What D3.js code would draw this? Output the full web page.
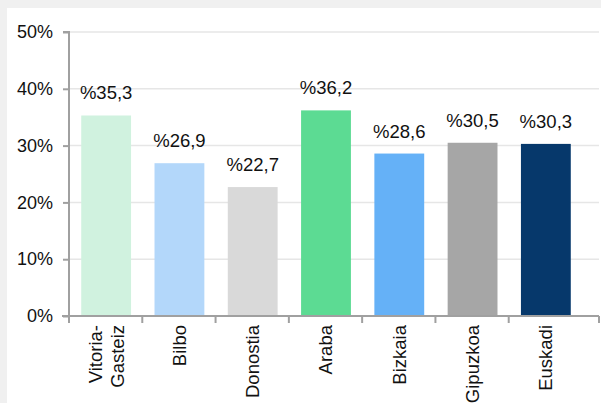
<!DOCTYPE html>
<html>
<head>
<meta charset="utf-8">
<script src="https://cdn.jsdelivr.net/npm/d3@7"></script>
<style>
  html, body { margin: 0; padding: 0; background: #f0f0f0; }
  svg { display: block; }
  text { font-family: "Liberation Sans", Arial, sans-serif; }
</style>
</head>
<body>
<svg id="chart" width="601" height="403"></svg>
<script>
// ---- data ----
const categories = ["Vitoria-Gasteiz", "Bilbo", "Donostia", "Araba", "Bizkaia", "Gipuzkoa", "Euskadi"];
const values = [35.3, 26.9, 22.7, 36.2, 28.6, 30.5, 30.3];
const yTicks = [0, 10, 20, 30, 40, 50];

// ---- style ----
const palette = ["#d0f2df", "#b3d7fa", "#d9d9d9", "#5cdb93", "#65b1f7", "#a6a6a6", "#06386b"];

const svg = d3.select("#chart");
svg.append("rect").attr("x", 7).attr("y", 8).attr("width", 594).attr("height", 395).attr("fill", "#ffffff");

const x = d3.scaleBand().domain(categories).range([69, 582]).paddingInner(0.32).paddingOuter(0.16);
const y = d3.scaleLinear().domain([0, 50]).range([316, 32]);
const axisRight = 599;

// gridlines
svg.append("g").selectAll("line").data(yTicks.filter(d => d > 0)).join("line")
  .attr("x1", 69).attr("x2", axisRight).attr("y1", d => y(d)).attr("y2", d => y(d))
  .attr("stroke", "#e6e6e6").attr("stroke-width", 1.5);

// bars
svg.append("g").selectAll("rect").data(values).join("rect")
  .attr("x", (d, i) => x(categories[i]) + 0.5)
  .attr("y", d => y(d))
  .attr("width", x.bandwidth())
  .attr("height", d => y(0) - y(d))
  .attr("fill", (d, i) => palette[i]);

// value labels
svg.append("g").selectAll("text").data(values).join("text")
  .attr("x", (d, i) => x(categories[i]) + x.bandwidth() / 2 + 0.5)
  .attr("y", d => y(d) - 16)
  .attr("text-anchor", "middle").attr("font-size", 18.5).attr("fill", "#111")
  .text(d => "%" + d.toFixed(1).replace(".", ","));

// y axis
const yAxis = d3.axisLeft(y).tickValues(yTicks).tickSize(6).tickPadding(10).tickFormat(d => d + "%");
const gy = svg.append("g").attr("transform", "translate(69,0)").call(yAxis);
gy.select(".domain").attr("stroke", "#a0a0a0").attr("stroke-width", 2).attr("d", "M-6,32H0V316");
gy.selectAll(".tick line").attr("stroke", "#a0a0a0").attr("stroke-width", 2);
gy.selectAll(".tick text").attr("font-size", 18).attr("fill", "#111")
  .attr("font-family", "'Liberation Sans', Arial, sans-serif");

// x axis
const step = x.step();
const boundaries = d3.range(categories.length).map(i => x.range()[0] + i * step).concat([axisRight]);
const gx = svg.append("g");
gx.append("line").attr("x1", 62).attr("x2", axisRight).attr("y1", 316).attr("y2", 316)
  .attr("stroke", "#a0a0a0").attr("stroke-width", 2);
gx.selectAll("line.tk").data(boundaries).join("line").attr("class", "tk")
  .attr("x1", d => d).attr("x2", d => d).attr("y1", 316).attr("y2", 323)
  .attr("stroke", "#a0a0a0").attr("stroke-width", 2);

// category labels (rotated)
const lab = svg.append("g").selectAll("text").data(categories).join("text")
  .attr("transform", d => `translate(${x(d) + x.bandwidth() / 2 + 0.5},325) rotate(-90)`)
  .attr("text-anchor", "end").attr("font-size", 18.5).attr("fill", "#111");
lab.each(function(d) {
  const t = d3.select(this);
  if (d.includes("-")) {
    const parts = d.split("-");
    t.append("tspan").attr("x", 0).attr("y", -11).attr("dy", "0.35em").text(parts[0] + "-");
    t.append("tspan").attr("x", 0).attr("y", 11).attr("dy", "0.35em").text(parts[1]);
  } else {
    t.append("tspan").attr("x", 0).attr("y", 0).attr("dy", "0.35em").text(d);
  }
});
</script>
</body>
</html>
